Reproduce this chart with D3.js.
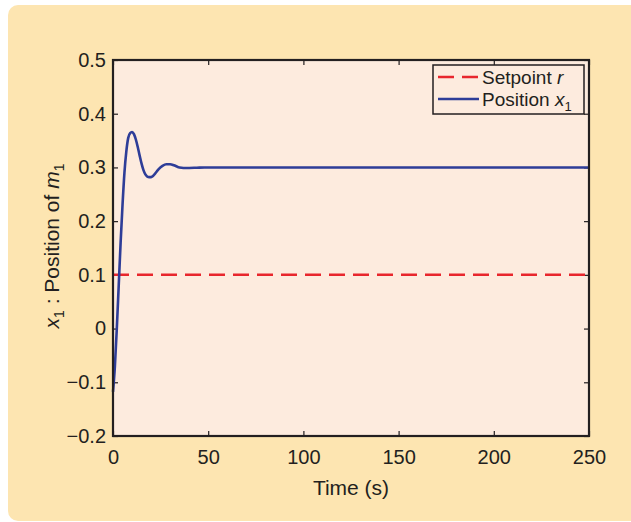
<!DOCTYPE html>
<html>
<head>
<meta charset="utf-8">
<script src="https://cdn.jsdelivr.net/npm/d3@7"></script>
<style>
  body { margin: 0; background: #ffffff; }
  svg { display: block; font-family: "Liberation Sans", Arial, sans-serif; }
  .axis text { font-size: 20px; fill: #231f20; }
</style>
</head>
<body>
<svg id="chart" width="631" height="522"></svg>
<script>
// time samples (s) and the position response x1
var times = [0, 1, 2, 3, 4, 5, 6, 7, 8, 9, 10, 11, 12, 13, 14, 15, 16, 17, 18, 19, 20, 21, 22, 24, 26, 28, 30, 32, 34, 36, 38, 40, 44, 48, 55, 70, 100, 150, 200, 250];
var position = [-0.118, -0.07, 0.0, 0.08, 0.16, 0.23, 0.29, 0.33, 0.355, 0.364, 0.366, 0.362, 0.352, 0.338, 0.322, 0.307, 0.295, 0.287, 0.283, 0.282, 0.282, 0.284, 0.288, 0.297, 0.303, 0.306, 0.306, 0.304, 0.301, 0.2995, 0.299, 0.299, 0.2995, 0.3, 0.3, 0.3, 0.3, 0.3, 0.3, 0.3];
var setpoint = 0.1;
var xTicks = [0, 50, 100, 150, 200, 250];
var yTicks = [-0.2, -0.1, 0, 0.1, 0.2, 0.3, 0.4, 0.5];
var legendLabels = [["Setpoint ", "r", ""], ["Position ", "x", "1"]];

var svg = d3.select("#chart");

// outer panel
svg.append("rect")
    .attr("x", 8).attr("y", 5)
    .attr("width", 640).attr("height", 516)
    .attr("rx", 10)
    .attr("fill", "#fde5b1");

var margin = {top: 60, right: 42, bottom: 86, left: 113},
    width = 631 - margin.left - margin.right,
    height = 522 - margin.top - margin.bottom;

var x = d3.scaleLinear().domain([0, 250]).range([0, width]),
    y = d3.scaleLinear().domain([-0.2, 0.5]).range([height, 0]);

var g = svg.append("g")
    .attr("transform", "translate(" + margin.left + "," + margin.top + ")");

g.append("rect")
    .attr("width", width).attr("height", height)
    .attr("fill", "#fdebde");

function fmt(d) {
  if (d === 0) return "0";
  return (d < 0 ? "\u2212" : "") + Math.abs(d).toFixed(1);
}

// bottom and left axes with inward ticks
g.append("g")
    .attr("class", "axis")
    .attr("transform", "translate(0," + height + ")")
    .call(d3.axisBottom(x).tickValues(xTicks).tickSize(-5).tickSizeOuter(0).tickPadding(14));
g.append("g")
    .attr("class", "axis")
    .call(d3.axisLeft(y).tickValues(yTicks).tickSize(-5).tickSizeOuter(0).tickPadding(7).tickFormat(fmt));
// top and right ticks
g.append("g")
    .call(d3.axisTop(x).tickValues(xTicks).tickSize(-5).tickSizeOuter(0).tickFormat(""));
g.append("g")
    .attr("transform", "translate(" + width + ",0)")
    .call(d3.axisRight(y).tickValues(yTicks).tickSize(-5).tickSizeOuter(0).tickFormat(""));

g.selectAll(".domain").remove();
g.selectAll(".tick line").attr("stroke", "#231f20").attr("stroke-width", 1.2);

// setpoint
g.append("line")
    .attr("x1", x(0)).attr("x2", x(250))
    .attr("y1", y(setpoint)).attr("y2", y(setpoint))
    .attr("stroke", "#e8262d")
    .attr("stroke-width", 2.5)
    .attr("stroke-dasharray", "16,8");

// position response
var line = d3.line()
    .x(function(d, i) { return x(times[i]); })
    .y(function(d) { return y(d); })
    .curve(d3.curveMonotoneX);
g.append("path")
    .datum(position)
    .attr("d", line)
    .attr("fill", "none")
    .attr("stroke", "#2e3d98")
    .attr("stroke-width", 2.6);

// frame
g.append("rect")
    .attr("width", width).attr("height", height)
    .attr("fill", "none")
    .attr("stroke", "#231f20")
    .attr("stroke-width", 2.2);

// axis titles
svg.append("text")
    .attr("x", margin.left + width / 2).attr("y", 495)
    .attr("text-anchor", "middle")
    .attr("font-size", 21).attr("fill", "#231f20")
    .text("Time (s)");

var yl = svg.append("text")
    .attr("transform", "translate(59," + (margin.top + height / 2 - 2) + ") rotate(-90)")
    .attr("text-anchor", "middle")
    .attr("font-size", 21).attr("fill", "#231f20");
yl.append("tspan").attr("font-style", "italic").text("x");
yl.append("tspan").attr("font-size", 14).attr("dy", 5).text("1");
yl.append("tspan").attr("dy", -5).text(" : Position of ");
yl.append("tspan").attr("font-style", "italic").text("m");
yl.append("tspan").attr("font-size", 14).attr("dy", 5).text("1");

// legend
var lg = svg.append("g").attr("transform", "translate(433,65)");
lg.append("rect")
    .attr("width", 151).attr("height", 49)
    .attr("fill", "#fdebde")
    .attr("stroke", "#231f20").attr("stroke-width", 1.5);
var legColors = ["#e8262d", "#2e3d98"];
var legDash = ["16,8", null];
legendLabels.forEach(function(lab, i) {
  var yy = 12 + i * 22;
  lg.append("line")
      .attr("x1", 5).attr("x2", 46)
      .attr("y1", yy).attr("y2", yy)
      .attr("stroke", legColors[i]).attr("stroke-width", 2.5)
      .attr("stroke-dasharray", legDash[i]);
  var t = lg.append("text")
      .attr("x", 49).attr("y", yy + 7)
      .attr("font-size", 19).attr("fill", "#231f20");
  t.append("tspan").text(lab[0]);
  t.append("tspan").attr("font-style", "italic").text(lab[1]);
  if (lab[2]) t.append("tspan").attr("font-size", 13).attr("dy", 5).text(lab[2]);
});
</script>
</body>
</html>
